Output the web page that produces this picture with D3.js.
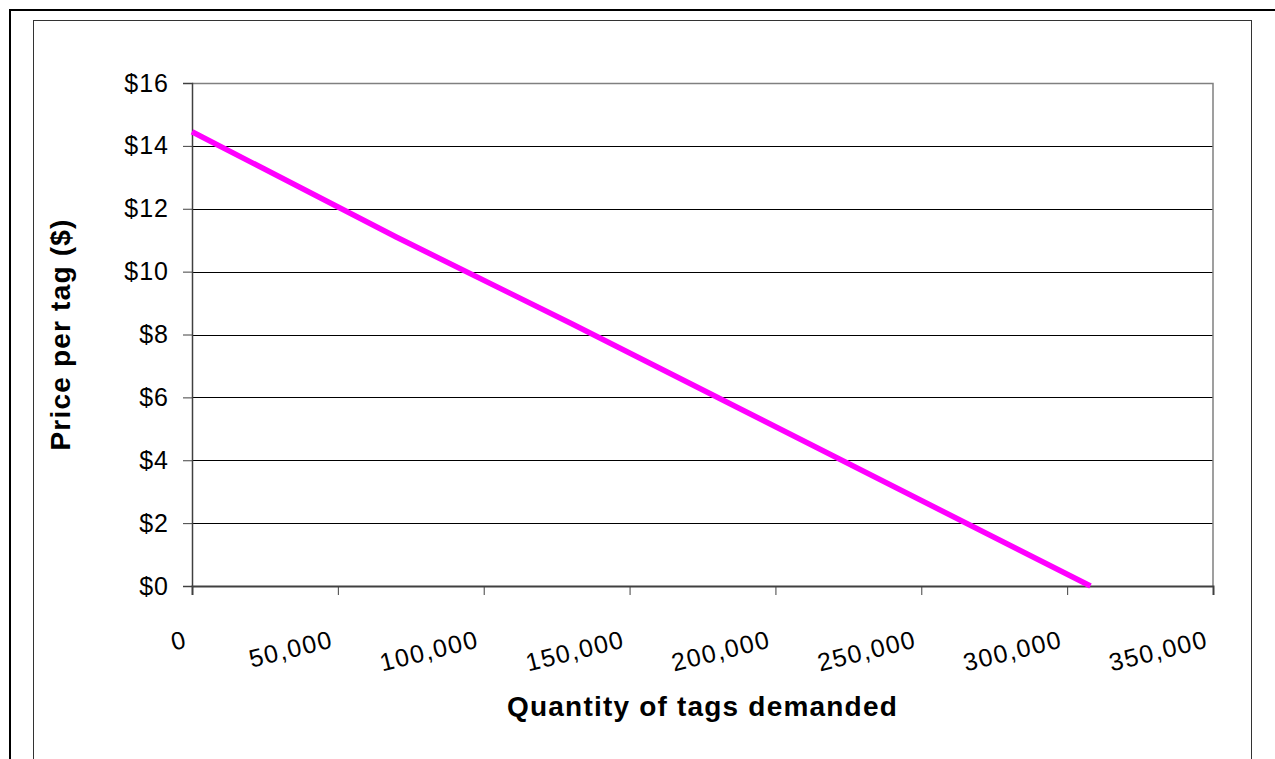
<!DOCTYPE html>
<html>
<head>
<meta charset="utf-8">
<script src="https://cdn.jsdelivr.net/npm/d3@7"></script>
<style>
  html, body { margin: 0; padding: 0; background: #ffffff; }
  svg { display: block; font-family: "Liberation Sans", Arial, sans-serif; }
</style>
</head>
<body>
<svg id="chart" width="1275" height="759"></svg>
<script>
// Demand schedule: quantity of tags demanded at each price
const quantity = [0, 70000, 130000, 308000];
const price = [14.45, 11.1, 8.35, 0];

// Axis ticks
const priceTicks = [0, 2, 4, 6, 8, 10, 12, 14, 16];
const quantityTicks = [0, 50000, 100000, 150000, 200000, 250000, 300000, 350000];

const xTitle = "Quantity of tags demanded";
const yTitle = "Price per tag ($)";

const svg = d3.select("#chart");
const plot = { left: 192, right: 1213, top: 83, bottom: 586 };

const x = d3.scaleLinear().domain([0, 350000]).range([plot.left, plot.right]);
const y = d3.scaleLinear().domain([0, 16]).range([plot.bottom, plot.top]);

// Outer frame and chart-area frame
svg.append("rect")
  .attr("x", 10).attr("y", 10).attr("width", 1280).attr("height", 760)
  .attr("fill", "none").attr("stroke", "#000").attr("stroke-width", 2);
svg.append("rect")
  .attr("x", 33.5).attr("y", 20.5).attr("width", 1218).attr("height", 760)
  .attr("fill", "none").attr("stroke", "#333").attr("stroke-width", 1);

// Horizontal gridlines
svg.append("g")
  .selectAll("line")
  .data(priceTicks.filter(d => d > 0 && d < 16))
  .join("line")
  .attr("x1", plot.left).attr("x2", plot.right)
  .attr("y1", d => Math.round(y(d)) + 0.5).attr("y2", d => Math.round(y(d)) + 0.5)
  .attr("stroke", "#000").attr("stroke-width", 1);

// Plot area border (top and right)
svg.append("path")
  .attr("d", `M${plot.left},${plot.top + 0.5}H${plot.right}V${plot.bottom}`)
  .attr("fill", "none").attr("stroke", "#808080").attr("stroke-width", 1.5);

// Y axis
const yAxis = svg.append("g")
  .attr("transform", `translate(${plot.left},0)`)
  .call(d3.axisLeft(y).tickValues(priceTicks).tickSize(9).tickPadding(14)
    .tickFormat(d => "$" + d));
yAxis.select(".domain").attr("stroke", "#404040").attr("stroke-width", 1.5);
yAxis.selectAll(".tick line").attr("stroke", "#404040");
yAxis.selectAll(".tick text")
  .attr("font-size", 25).attr("letter-spacing", "1px")
  .attr("fill", "#000").attr("font-family", "Liberation Sans, Arial, sans-serif");

// X axis
const xAxis = svg.append("g")
  .attr("transform", `translate(0,${plot.bottom})`)
  .call(d3.axisBottom(x).tickValues(quantityTicks).tickSize(9)
    .tickFormat(d3.format(",")));
xAxis.select(".domain").attr("stroke", "#404040").attr("stroke-width", 2);
xAxis.selectAll(".tick line").attr("stroke", "#404040");
xAxis.selectAll(".tick text")
  .attr("font-size", 25).attr("letter-spacing", "1.5px")
  .attr("fill", "#000").attr("font-family", "Liberation Sans, Arial, sans-serif")
  .attr("text-anchor", "end")
  .attr("x", -4).attr("y", 61).attr("dy", 0)
  .attr("transform", "rotate(-14,-4,61)");

// Demand line
svg.append("path")
  .datum(quantity.map((q, i) => [q, price[i]]))
  .attr("d", d3.line().x(d => x(d[0])).y(d => y(d[1])))
  .attr("fill", "none").attr("stroke", "#ff00ff").attr("stroke-width", 5.5)
  .attr("stroke-linejoin", "round");

// Axis titles
svg.append("text")
  .attr("x", (plot.left + plot.right) / 2).attr("y", 716)
  .attr("text-anchor", "middle")
  .attr("font-size", 28).attr("font-weight", "bold").attr("letter-spacing", "1.2px")
  .text(xTitle);

svg.append("text")
  .attr("transform", `translate(70,${(plot.top + plot.bottom) / 2}) rotate(-90)`)
  .attr("text-anchor", "middle")
  .attr("font-size", 28).attr("font-weight", "bold").attr("letter-spacing", "1.2px")
  .text(yTitle);
</script>
</body>
</html>
